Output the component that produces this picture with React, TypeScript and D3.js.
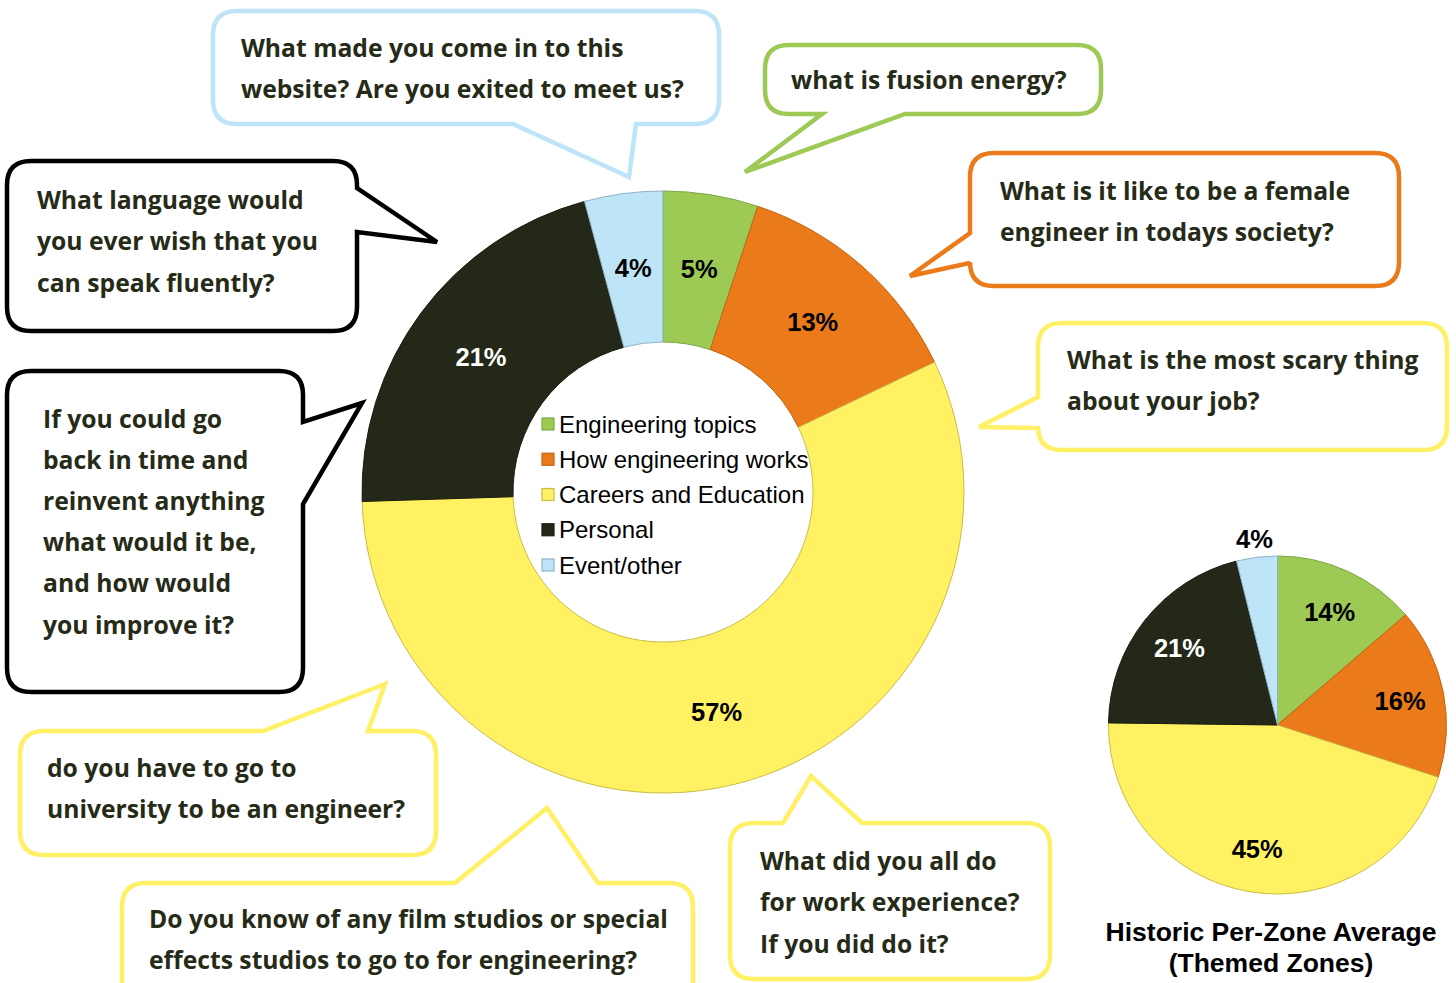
import React from "react";
import * as d3 from "d3";

const categories = [
  "Engineering topics",
  "How engineering works",
  "Careers and Education",
  "Personal",
  "Event/other",
];
const currentShares = [5.1, 12.8, 56.6, 21.3, 4.2];
const historicShares = [13.7, 16.3, 45.2, 20.9, 3.9];
const historicTitle = ["Historic Per-Zone Average", "(Themed Zones)"];

const FILL = ["#9dc955", "#eb7b1a", "#fff162", "#242818", "#bde4f7"];
const EDGE = ["#7fa845", "#c4620f", "#c9bd45", "#1a1c10", "#8fb3c6"];
const LABEL_COLOR = ["#000", "#000", "#000", "#fff", "#000"];

type Tail = { side: "top" | "right" | "bottom" | "left"; a: number; b: number; tx: number; ty: number };
type Bubble = { lines: string[]; x: number; y: number; w: number; h: number; color: string; tail: Tail; tx: number; ty: number; lh: number };

const bubbles: Bubble[] = [
  { lines: ["What made you come in to this", "website? Are you exited to meet us?"], x: 213, y: 11, w: 506, h: 113, color: "#bde4f7",
    tail: { side: "bottom", a: 636, b: 513, tx: 629, ty: 177 }, tx: 241, ty: 48, lh: 41 },
  { lines: ["what is fusion energy?"], x: 765, y: 45, w: 336, h: 69, color: "#9dc955",
    tail: { side: "bottom", a: 905, b: 822, tx: 745, ty: 172 }, tx: 791, ty: 80, lh: 41 },
  { lines: ["What is it like to be a female", "engineer in todays society?"], x: 970, y: 153, w: 429, h: 133, color: "#eb7b1a",
    tail: { side: "left", a: 263, b: 233, tx: 910, ty: 276 }, tx: 1000, ty: 191, lh: 41 },
  { lines: ["What is the most scary thing", "about your job?"], x: 1038, y: 323, w: 409, h: 127, color: "#fff066",
    tail: { side: "left", a: 428, b: 397, tx: 979, ty: 427 }, tx: 1067, ty: 360, lh: 41 },
  { lines: ["What language would", "you ever wish that you", "can speak fluently?"], x: 7, y: 161, w: 350, h: 170, color: "#000000",
    tail: { side: "right", a: 188, b: 232, tx: 437, ty: 242 }, tx: 37, ty: 200, lh: 41.5 },
  { lines: ["If you could go", "back in time and", "reinvent anything", "what would it be,", "and how would", "you improve it?"], x: 7, y: 371, w: 296, h: 321, color: "#000000",
    tail: { side: "right", a: 422, b: 504, tx: 362, ty: 403 }, tx: 43, ty: 419, lh: 41.2 },
  { lines: ["do you have to go to", "university to be an engineer?"], x: 20, y: 731, w: 416, h: 124, color: "#fff066",
    tail: { side: "top", a: 263, b: 368, tx: 385, ty: 684 }, tx: 47, ty: 768, lh: 41 },
  { lines: ["Do you know of any film studios or special", "effects studios to go to for engineering?"], x: 122, y: 883, w: 571, h: 140, color: "#fff066",
    tail: { side: "top", a: 455, b: 598, tx: 547, ty: 808 }, tx: 149, ty: 919, lh: 41 },
  { lines: ["What did you all do", "for work experience?", "If you did do it?"], x: 730, y: 823, w: 320, h: 156, color: "#fff066",
    tail: { side: "top", a: 783, b: 862, tx: 811, ty: 776 }, tx: 760, ty: 861, lh: 41.5 },
];

function bubblePath(b: Bubble, r = 24): string {
  const { x, y, w, h, tail } = b;
  const x2 = x + w, y2 = y + h;
  let p = `M${x + r},${y}`;
  if (tail.side === "top") p += `L${tail.a},${y}L${tail.tx},${tail.ty}L${tail.b},${y}`;
  p += `L${x2 - r},${y}Q${x2},${y} ${x2},${y + r}`;
  if (tail.side === "right") p += `L${x2},${tail.a}L${tail.tx},${tail.ty}L${x2},${tail.b}`;
  p += `L${x2},${y2 - r}Q${x2},${y2} ${x2 - r},${y2}`;
  if (tail.side === "bottom") p += `L${tail.a},${y2}L${tail.tx},${tail.ty}L${tail.b},${y2}`;
  p += `L${x + r},${y2}Q${x},${y2} ${x},${y2 - r}`;
  if (tail.side === "left") p += `L${x},${tail.a}L${tail.tx},${tail.ty}L${x},${tail.b}`;
  p += `L${x},${y + r}Q${x},${y} ${x + r},${y}Z`;
  return p;
}

const pieGen = d3.pie<number>().sort(null).value((d) => d);

export default function App() {
  const cx = 663, cy = 492, R = 301, r0 = 150;
  const arcs = pieGen(currentShares);
  const arcGen = d3.arc<d3.PieArcDatum<number>>().innerRadius(r0).outerRadius(R);
  const labelArc = d3.arc<d3.PieArcDatum<number>>().innerRadius(r0).outerRadius(R + 2);

  const hx = 1277.5, hy = 725, HR = 169;
  const harcs = pieGen(historicShares);
  const hArc = d3.arc<d3.PieArcDatum<number>>().innerRadius(0).outerRadius(HR);
  const hLabel = d3.arc<d3.PieArcDatum<number>>().innerRadius(HR * 0.74).outerRadius(HR * 0.74);
  const hOut = d3.arc<d3.PieArcDatum<number>>().innerRadius(HR + 19).outerRadius(HR + 19);
  const fmt = (v: number) => `${Math.round(v)}%`;

  const legendY = d3.scalePoint<number>().domain(d3.range(categories.length)).range([424, 565]);

  return (
    <svg width={1456} height={983} style={{ position: "absolute", left: 0, top: 0, background: "#fff" }}>
      {/* speech bubbles */}
      {bubbles.map((b, i) => (
        <g key={i}>
          <path d={bubblePath(b)} fill="#fff" stroke={b.color} strokeWidth={4.5} strokeLinejoin="miter" />
          {b.lines.map((ln, j) => (
            <text key={j} x={b.tx} y={b.ty + j * b.lh} dy="0.35em" fontFamily="'Open Sans', Lato, sans-serif" fontWeight={700}
              fontSize={24.7} fill="#262b18">{ln}</text>
          ))}
        </g>
      ))}

      {/* main donut */}
      <g transform={`translate(${cx},${cy})`}>
        {arcs.map((a, i) => (
          <path key={i} d={arcGen(a) || ""} fill={FILL[i]} stroke={EDGE[i]} strokeWidth={1} />
        ))}
        {arcs.map((a, i) => {
          const [lx, ly] = labelArc.centroid(a);
          return (
            <text key={i} x={lx} y={ly} dy="0.36em" textAnchor="middle" fontFamily="'Liberation Sans', Arial, sans-serif"
              fontWeight={700} fontSize={25.5} fill={LABEL_COLOR[i]}>{fmt(a.data)}</text>
          );
        })}
      </g>

      {/* legend */}
      {categories.map((c, i) => (
        <g key={c}>
          <rect x={542} y={legendY(i)! - 6} width={12} height={12} fill={FILL[i]} stroke={EDGE[i]} strokeWidth={1.2} />
          <text x={559} y={legendY(i)!} dy="0.36em" fontFamily="'Liberation Sans', Arial, sans-serif" fontSize={24} fill="#000">{c}</text>
        </g>
      ))}

      {/* historic pie */}
      <g transform={`translate(${hx},${hy})`}>
        {harcs.map((a, i) => (
          <path key={i} d={hArc(a) || ""} fill={FILL[i]} stroke={EDGE[i]} strokeWidth={1} />
        ))}
        {harcs.map((a, i) => {
          const outside = a.data < 5;
          const [lx, ly] = outside ? hOut.centroid(a) : hLabel.centroid(a);
          return (
            <text key={i} x={lx} y={ly} dy="0.36em" textAnchor="middle" fontFamily="'Liberation Sans', Arial, sans-serif"
              fontWeight={700} fontSize={25.5} fill={outside ? "#000" : LABEL_COLOR[i]}>{fmt(a.data)}</text>
          );
        })}
      </g>
      {historicTitle.map((t, i) => (
        <text key={t} x={1271} y={932 + i * 31} dy="0.35em" textAnchor="middle" fontFamily="'Liberation Sans', Arial, sans-serif"
          fontWeight={700} fontSize={26.5} fill="#000">{t}</text>
      ))}
    </svg>
  );
}
